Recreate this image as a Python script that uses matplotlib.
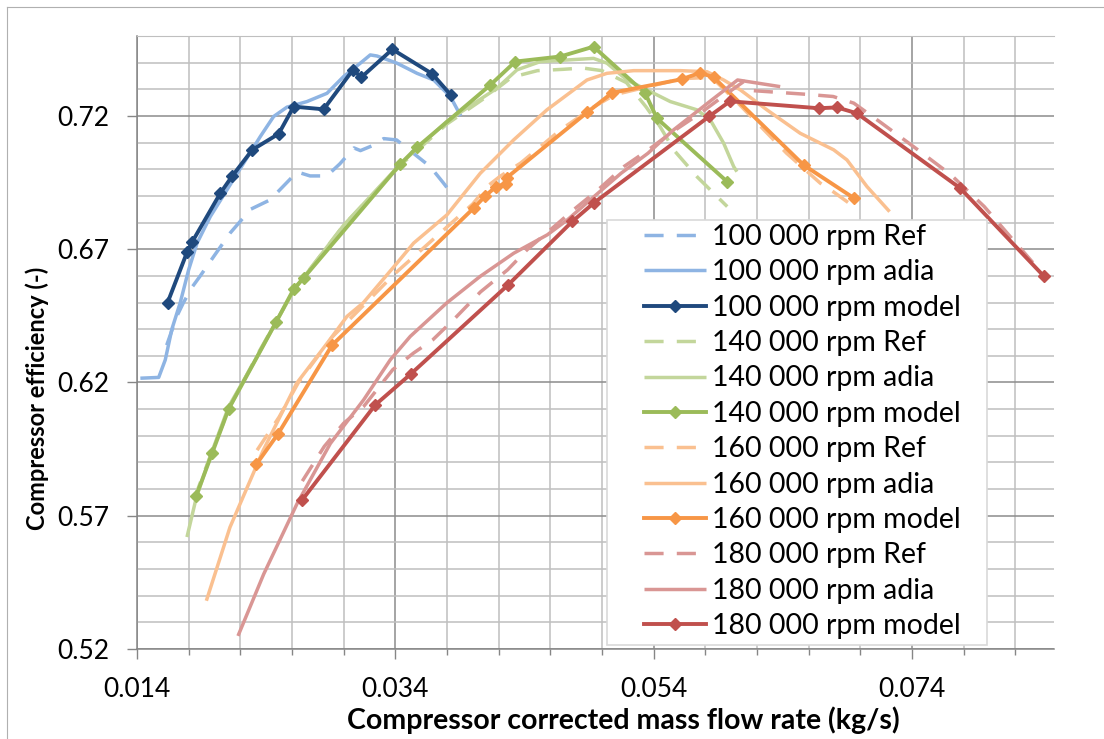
import matplotlib.pyplot as plt
from matplotlib.patches import Rectangle
from matplotlib.lines import Line2D

plt.rcParams['font.family'] = ['Lato', 'DejaVu Sans']

# 100 000 rpm
ref100_x = [0.0163, 0.0171, 0.0176, 0.0183, 0.0189, 0.0199, 0.0212, 0.0228, 0.0243, 0.0254, 0.0264,
            0.0274, 0.0287, 0.0297, 0.0308, 0.0313, 0.0323, 0.0331, 0.0341, 0.0354, 0.0367, 0.0377, 0.0385]
ref100_y = [0.634, 0.645, 0.650, 0.656, 0.660, 0.667, 0.676, 0.685, 0.6885, 0.694, 0.699,
            0.6975, 0.6975, 0.702, 0.708, 0.707, 0.709, 0.7115, 0.711, 0.706, 0.701, 0.695, 0.690]
adia100_x = [0.01426, 0.01568, 0.01619, 0.0167, 0.01735, 0.018, 0.01865, 0.01968, 0.02097, 0.02226,
             0.02355, 0.02458, 0.02561, 0.02716, 0.02871, 0.030, 0.03129, 0.03206, 0.03258, 0.03413,
             0.03568, 0.03697, 0.03826, 0.03907]
adia100_y = [0.6216, 0.6219, 0.6285, 0.640, 0.650, 0.6623, 0.6723, 0.6823, 0.6923, 0.7023,
             0.7123, 0.7198, 0.7233, 0.7254, 0.7285, 0.7348, 0.7398, 0.7429, 0.7425, 0.7398,
             0.736, 0.7335, 0.7273, 0.720]
model100_x = [0.01637, 0.01787, 0.01828, 0.02045, 0.02135, 0.02293, 0.02497, 0.02613, 0.02845,
              0.03072, 0.03137, 0.03377, 0.03686, 0.03831]
model100_y = [0.650, 0.6688, 0.6728, 0.691, 0.6973, 0.7073, 0.7133, 0.7235, 0.7225,
              0.7373, 0.7345, 0.745, 0.7358, 0.7278]

# 140 000 rpm
ref140_x = [0.0184, 0.0198, 0.0212, 0.0235, 0.0262, 0.0300, 0.0345, 0.0380, 0.0410, 0.0430, 0.0450,
            0.0470, 0.0485, 0.0500, 0.0519, 0.0534, 0.0545, 0.0556, 0.0574, 0.0597]
ref140_y = [0.576, 0.594, 0.611, 0.632, 0.655, 0.679, 0.702, 0.717, 0.727, 0.7345, 0.737,
            0.7375, 0.738, 0.737, 0.7325, 0.7235, 0.716, 0.707, 0.697, 0.686]
adia140_x = [0.01787, 0.0186, 0.0198, 0.0211, 0.0230, 0.0248, 0.0262, 0.0300, 0.0344, 0.0380, 0.04187,
             0.04342, 0.04523, 0.0473, 0.04935, 0.05039, 0.05194, 0.05348, 0.05529, 0.05735, 0.05839,
             0.05942, 0.0602, 0.06045]
adia140_y = [0.562, 0.577, 0.594, 0.611, 0.627, 0.643, 0.655, 0.679, 0.702, 0.718, 0.7304,
             0.7373, 0.7404, 0.741, 0.7416, 0.7398, 0.7335, 0.7298, 0.7254, 0.7223, 0.7185,
             0.7098, 0.701, 0.6991]
model140_x = [0.01857, 0.01981, 0.0211, 0.02476, 0.02613, 0.0269, 0.0344, 0.0357, 0.04135, 0.04329,
              0.04677, 0.04935, 0.05335, 0.05426, 0.05968]
model140_y = [0.5773, 0.5934, 0.6101, 0.6426, 0.655, 0.6592, 0.702, 0.7083, 0.7316, 0.7404,
              0.7423, 0.746, 0.7285, 0.7191, 0.6954]

# 160 000 rpm
ref160_x = [0.0233, 0.0250, 0.0265, 0.0291, 0.0340, 0.0400, 0.0411, 0.0421, 0.0437, 0.0468, 0.0494,
            0.0510, 0.0562, 0.0585, 0.0605, 0.0633, 0.0643, 0.0669, 0.0679, 0.0695]
ref160_y = [0.5946, 0.607, 0.620, 0.637, 0.661, 0.687, 0.6935, 0.6973, 0.7023, 0.7148, 0.7235,
            0.728, 0.734, 0.7345, 0.725, 0.711, 0.706, 0.6948, 0.6916, 0.686]
adia160_x = [0.01937, 0.0212, 0.02378, 0.02636, 0.02894, 0.03026, 0.03152, 0.03413, 0.03542, 0.038,
             0.04058, 0.04316, 0.04574, 0.04729, 0.04884, 0.05039, 0.05245, 0.05606, 0.05813, 0.05942,
             0.06071, 0.06277, 0.06535, 0.06794, 0.06897, 0.07052, 0.07227]
adia160_y = [0.5381, 0.5657, 0.5946, 0.6197, 0.6361, 0.6448, 0.6499, 0.6648, 0.6723, 0.6829,
             0.6985, 0.711, 0.7223, 0.7279, 0.7335, 0.736, 0.737, 0.737, 0.7366, 0.7335,
             0.7298, 0.7223, 0.7135, 0.7073, 0.7035, 0.6935, 0.6841]
model160_x = [0.02324, 0.02492, 0.0291, 0.04006, 0.04097, 0.0418, 0.04255, 0.04262, 0.04884, 0.0508,
              0.05619, 0.0576, 0.05865, 0.06561, 0.06953]
model160_y = [0.5893, 0.6007, 0.634, 0.6854, 0.690, 0.6935, 0.6945, 0.6968, 0.7213, 0.7287,
              0.7338, 0.7362, 0.7345, 0.7016, 0.6891]

# 180 000 rpm
ref180_x = [0.0268, 0.0285, 0.0300, 0.03155, 0.0338, 0.0354, 0.0369, 0.0385, 0.0406, 0.0427, 0.0442,
            0.0463, 0.0478, 0.0497, 0.0517, 0.0536, 0.0553, 0.0576, 0.0597, 0.0610, 0.0617, 0.0638,
            0.0659, 0.0679, 0.0695, 0.0716, 0.0744, 0.0770, 0.0796, 0.0821, 0.0839]
ref180_y = [0.583, 0.596, 0.6047, 0.611, 0.6248, 0.631, 0.636, 0.6435, 0.654, 0.6623, 0.6698,
            0.6785, 0.6848, 0.6923, 0.701, 0.7073, 0.7135, 0.721, 0.7285, 0.733, 0.7295, 0.7288,
            0.7281, 0.7273, 0.7248, 0.7175, 0.7075, 0.698, 0.686, 0.672, 0.662]
adia180_x = [0.02182, 0.02381, 0.02639, 0.02897, 0.03155, 0.03361, 0.03516, 0.03797, 0.04057, 0.04317,
             0.04577, 0.04732, 0.0494, 0.05148, 0.05356, 0.05555, 0.0585, 0.0605, 0.0638]
adia180_y = [0.5249, 0.5481, 0.5745, 0.5971, 0.6135, 0.6285, 0.6373, 0.6498, 0.6598, 0.6685,
             0.6754, 0.681, 0.6898, 0.6985, 0.706, 0.7148, 0.726, 0.7335, 0.731]
model180_x = [0.02677, 0.03245, 0.03518, 0.04273, 0.0477, 0.04938, 0.05832, 0.05991, 0.06677, 0.0682,
              0.06974, 0.07774, 0.08419]
model180_y = [0.5758, 0.6116, 0.6231, 0.6566, 0.6804, 0.6874, 0.7199, 0.7255, 0.7229, 0.7232,
              0.721, 0.6929, 0.660]

speeds = ['100 000', '140 000', '160 000', '180 000']
light = ['#8EB4E3', '#C3D69B', '#FAC090', '#D99694']
dark = ['#1F497D', '#9BBB59', '#F79646', '#C0504D']
refs = [(ref100_x, ref100_y), (ref140_x, ref140_y), (ref160_x, ref160_y), (ref180_x, ref180_y)]
adias = [(adia100_x, adia100_y), (adia140_x, adia140_y), (adia160_x, adia160_y), (adia180_x, adia180_y)]
models = [(model100_x, model100_y), (model140_x, model140_y), (model160_x, model160_y), (model180_x, model180_y)]

fig = plt.figure(figsize=(11.04, 7.39), dpi=100)
ax = fig.add_axes([137/1104, 1-649/739, 917/1104, 613/739])

# chart area border
fig.add_artist(Line2D([7/1104, 7/1104], [0, 1-7/739], color='#B0B0B0', lw=0.8))
fig.add_artist(Line2D([7/1104, 1], [1-7/739, 1-7/739], color='#B0B0B0', lw=0.8))

handles = []
for i in range(4):
    h1, = ax.plot(refs[i][0], refs[i][1], color=light[i], lw=2.5, dashes=(5.5, 3.8),
                  dash_capstyle='butt', label=speeds[i] + ' rpm Ref')
    h2, = ax.plot(adias[i][0], adias[i][1], color=light[i], lw=2.5, solid_capstyle='butt',
                  label=speeds[i] + ' rpm adia')
    h3, = ax.plot(models[i][0], models[i][1], color=dark[i], lw=2.8, marker='D', ms=6.3,
                  label=speeds[i] + ' rpm model')
    handles += [h1, h2, h3]

ax.set_xlim(0.014, 0.085)
ax.set_ylim(0.52, 0.75)
ax.set_xticks([0.014, 0.034, 0.054, 0.074])
ax.set_xticks([0.014 + 0.004*k for k in range(18)], minor=True)
ax.set_yticks([0.52, 0.57, 0.62, 0.67, 0.72])
ax.set_yticks([0.52 + 0.01*k for k in range(23)], minor=True)
ax.set_xticklabels(['0.014', '0.034', '0.054', '0.074'])
ax.set_yticklabels(['0.52', '0.57', '0.62', '0.67', '0.72'])
ax.tick_params(which='major', length=7, width=1, color='#868686', labelsize=19, pad=13)
ax.tick_params(axis='x', which='minor', length=4, width=1, color='#868686')
ax.tick_params(axis='y', which='minor', length=0)
ax.grid(which='minor', color='#BFBFBF', lw=1.1)
ax.grid(which='major', color='#8C8C8C', lw=1.1)
ax.set_axisbelow(True)
for s in ['left', 'bottom']:
    ax.spines[s].set_color('#868686')
    ax.spines[s].set_linewidth(1.1)
ax.spines['top'].set_color('#BFBFBF')
ax.spines['right'].set_visible(False)

ax.set_xlabel('Compressor corrected mass flow rate (kg/s)', fontsize=20.5, fontweight='bold', va='center')
ax.set_ylabel('Compressor efficiency (-)', fontsize=17, fontweight='bold', va='center', ha='center')
ax.xaxis.set_label_coords((623-137)/917, (649-720)/613)
ax.yaxis.set_label_coords((37-137)/917, (649-398)/613)

# legend box
ax.add_patch(Rectangle((0.5125, 0.0065), 0.4145, 0.6935, transform=ax.transAxes,
                       facecolor='white', edgecolor='#D9D9D9', lw=1.2, zorder=5))
leg = ax.legend(handles=handles, loc='upper left', bbox_to_anchor=(0.5529, 0.6935),
                frameon=False, fontsize=20.5, borderpad=0, handlelength=2.18,
                handletextpad=0.21, labelspacing=0.33, borderaxespad=0)
leg.set_zorder(6)

fig.savefig('out.png', dpi=100)
